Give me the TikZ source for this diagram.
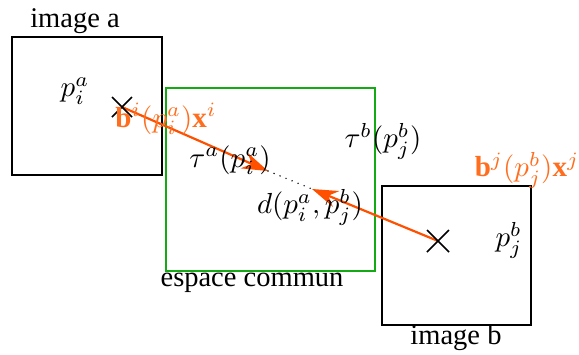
\documentclass[tikz,border=0pt]{standalone}
\usepackage{fontspec}
\setmainfont{Liberation Serif}
\usetikzlibrary{arrows.meta,calc}
\definecolor{arrorange}{RGB}{255,80,0}
\definecolor{txtorange}{RGB}{255,110,30}
\definecolor{boxgreen}{RGB}{20,170,20}
\begin{document}
\begin{tikzpicture}[x=1pt,y=-1pt,
  every node/.style={font=\fontsize{28.5}{33}\selectfont, inner sep=0pt},
  mathlbl/.style={font=\fontsize{10}{12}\selectfont, scale=2.9},
  imgbox/.style={draw=black, line width=2pt, minimum width=150pt, minimum height=138pt},
  combox/.style={draw=boxgreen, line width=2pt, minimum width=209pt, minimum height=183pt},
  crossmark/.style={draw=black, line width=1.6pt},
  proj/.style={draw=arrorange, line width=2.2pt, -{Stealth[length=26pt,width=17pt]}},
  dotline/.style={line width=1.6pt, line cap=round, dash pattern=on 0pt off 6.5pt},
  orangelbl/.style={mathlbl, text=txtorange}]
\useasboundingbox (0,0) rectangle (579,354);
% boxes
\node[imgbox] (ia) at (87,106) {};
\node[combox] (ec) at (270.5,179.5) {};
\node[imgbox, minimum width=149pt, minimum height=139pt] (ib) at (456.5,255.5) {};
% titles
\node (ta) at (75,21) {image a};
\node (tec) at (252,283) {espace commun};
\node (tb) at (456,338) {image b};
% points
\coordinate (xa) at (122,107);
\coordinate (xb) at (438,241);
\coordinate (ta1) at (268,171);
\coordinate (tb1) at (312,189);
\node[mathlbl] (pa) at (75,91) {$p_i^a$};
\node[mathlbl] (pb) at (509,240) {$p_j^b$};
% arrows
\draw[proj] (xa) -- (ta1);
\draw[proj] (xb) -- (tb1);
\draw[dotline] (ta1) -- (tb1);
% crosses
\draw[crossmark] ($(xa)+(-10,-10)$) -- ($(xa)+(10,10)$) ($(xa)+(-10,10)$) -- ($(xa)+(10,-10)$);
\draw[crossmark] ($(xb)+(-11,-11)$) -- ($(xb)+(11,11)$) ($(xb)+(-11,11)$) -- ($(xb)+(11,-11)$);
% labels
\node[orangelbl] (ba) at (166,119) {$\mathbf{b}^i(p_i^a)\mathbf{x}^i$};
\node[orangelbl] (bb) at (527,170) {$\mathbf{b}^j(p_j^b)\mathbf{x}^j$};
\node[mathlbl] (tau a) at (230,160) {$\tau^a(p_i^a)$};
\node[mathlbl] (tau b) at (383,141) {$\tau^b(p_j^b)$};
\node[mathlbl] (d) at (310,207) {$d(p_i^a,p_j^b)$};
\end{tikzpicture}
\end{document}
